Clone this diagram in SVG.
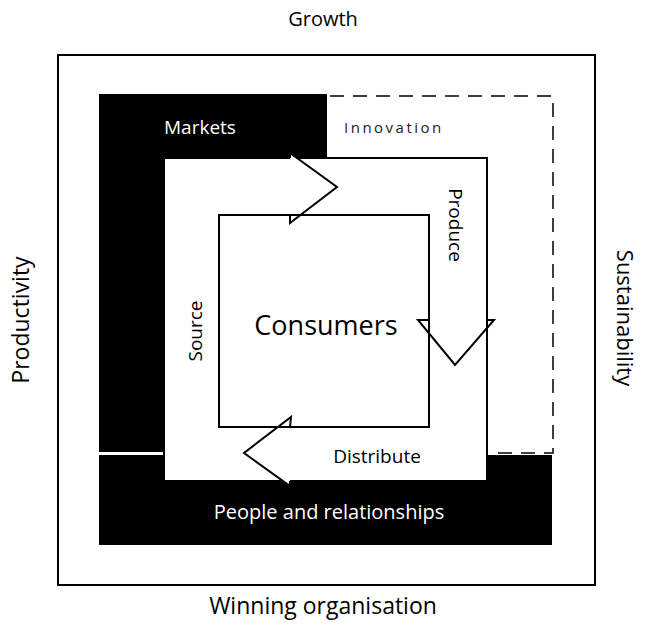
<svg xmlns="http://www.w3.org/2000/svg" width="646" height="631" viewBox="0 0 646 631">
<style>
  text { font-family: "Open Sans", "Liberation Sans", sans-serif; }
  .lbl { fill: #000; }
  .wt { fill: #fff; }
  .blk { fill: #000; }
  .box { fill: #fff; stroke: #000; stroke-width: 2; }
  .ah { fill: #fff; stroke: none; }
  .ahl { fill: none; stroke: #000; stroke-width: 2; stroke-linejoin: miter; }
  .dash { fill: none; stroke: #000; stroke-width: 1.5; stroke-dasharray: 14 9; }
</style>
<rect width="646" height="631" fill="#fff"/>
<g id="outer">
  <rect x="58" y="55" width="537" height="530" fill="none" stroke="#000" stroke-width="2"/>
  <text class="lbl" x="323" y="26" text-anchor="middle" font-size="20">Growth</text>
  <text class="lbl" x="323" y="614" text-anchor="middle" font-size="23">Winning organisation</text>
  <text class="lbl" transform="translate(29,320) rotate(-90)" text-anchor="middle" font-size="23">Productivity</text>
  <text class="lbl" transform="translate(617,318) rotate(90)" text-anchor="middle" font-size="22">Sustainability</text>
</g>
<g id="innovation">
  <polyline class="dash" points="330,96 553,96 553,453 490,453"/>
  <text x="344" y="133" font-size="15" letter-spacing="2.5" fill="#222">Innovation</text>
</g>
<g id="markets">
  <rect class="blk" x="99" y="94" width="228" height="358"/>
  <text class="wt" x="164" y="134" font-size="19">Markets</text>
</g>
<g id="people">
  <rect class="blk" x="99" y="455" width="453" height="90"/>
  <text class="wt" x="329" y="519" font-size="20" text-anchor="middle">People and relationships</text>
</g>
<g id="flow">
  <rect class="box" x="164" y="158" width="323" height="323"/>
  <polygon class="ah" points="290,153 337,187 290,223"/>
  <polygon class="ah" points="418,320 494,320 455,365"/>
  <polygon class="ah" points="291,417 244,453 290,486"/>
  <line x1="487" y1="158" x2="487" y2="481" stroke="#000" stroke-width="2"/>
</g>
<g id="consumers">
  <rect class="box" x="219" y="215" width="210" height="212"/>
  <text x="326" y="335" font-size="27" text-anchor="middle">Consumers</text>
</g>
<g id="connectors">
  <polyline class="ahl" points="290,158 290,153 337,187 290,223 290,215"/>
  <polyline class="ahl" points="429,320 418,320 455,365 494,320 487,320"/>
  <polyline class="ahl" points="290,427 291,417 244,453 290,486 290,481"/>
</g>
<g id="labels">
  <text transform="translate(202,331) rotate(-90)" font-size="19" text-anchor="middle">Source</text>
  <text transform="translate(449,225) rotate(90)" font-size="19" text-anchor="middle">Produce</text>
  <text x="377" y="463" font-size="19" text-anchor="middle">Distribute</text>
</g>
</svg>
